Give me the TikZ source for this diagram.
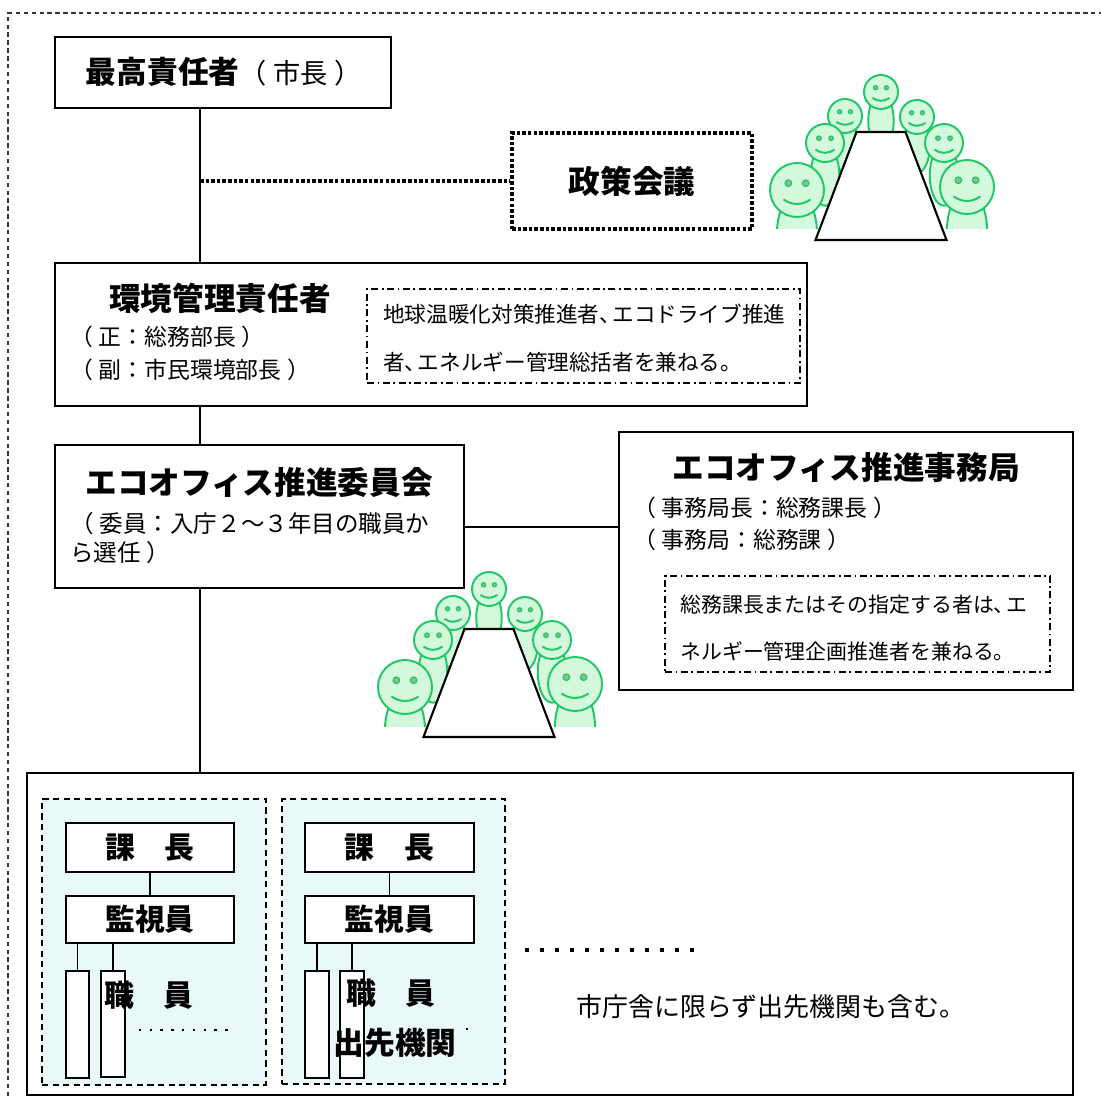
\documentclass[tikz,border=0pt]{standalone}
\usepackage{fontspec}
\setmainfont{Noto Sans CJK JP}
\usetikzlibrary{fit}

\definecolor{facegreen}{RGB}{30,200,100}
\definecolor{facefill}{RGB}{212,248,220}
\definecolor{eyefill}{RGB}{140,190,150}
\definecolor{unitfill}{RGB}{233,248,248}

% wide brackets and a tight comma
\newcommand\lp{（\hspace{0.25em}}
\newcommand\rp{\hspace{0.25em}）}
\newcommand\tc{、\kern-0.4em}

% one smiling member: head centre (#1,#2), radius #3
\newcommand\smiley[3]{%
	\draw[facegreen, fill=facefill, line width=1.1pt] (#1,{#2-1.7*#3}) ellipse ({0.75*#3} and {1.6*#3});
	\draw[facegreen, fill=facefill, line width=1.1pt] (#1,#2) circle[radius=#3];
	\draw[facegreen, fill=eyefill, line width=0.7pt] ({#1-0.32*#3},{#2+0.25*#3}) circle[radius={0.12*#3}];
	\draw[facegreen, fill=eyefill, line width=0.7pt] ({#1+0.32*#3},{#2+0.25*#3}) circle[radius={0.12*#3}];
	\draw[facegreen, line width=1.1pt] ({#1-0.5*#3},{#2-0.35*#3}) to[bend right=35] ({#1+0.5*#3},{#2-0.35*#3});
}

\tikzset{
	% members round a table, origin at the middle of the table's far edge
	meeting/.pic={
		\begin{scope}
		\clip (-110,-97) rectangle (110,70);
		\smiley{0}{40}{17}
		\smiley{-36}{16}{17}
		\smiley{36}{15}{17}
		\smiley{-56}{-11}{19}
		\smiley{63}{-11}{19}
		\end{scope}
		\draw[line width=1.2pt, fill=white] (-24.5,0) -- (24.5,0) -- (65.5,-108) -- (-65.5,-108) -- cycle;
		\begin{scope}
		\clip (-120,-97) rectangle (120,0);
		\smiley{-84}{-58}{27}
		\smiley{86}{-55}{27}
		\end{scope}
	}
}

\begin{document}
\begin{tikzpicture}[x=0.02cm, y=0.02cm]
	\tikzset{
	box/.style={draw, line width=1.1pt, fill=white, inner sep=0},
	notebox/.style={draw, line width=0.8pt, dash pattern=on 4pt off 2pt on 1pt off 2pt, inner sep=0},
	unitbox/.style={draw, line width=0.9pt, dash pattern=on 3.5pt off 2.5pt, fill=unitfill, inner sep=0},
	smallbox/.style={draw, line width=0.8pt, fill=white, inner sep=0},
	dotline/.style={line width=2pt, dash pattern=on 2pt off 1.2pt},
	link/.style={line width=1.1pt},
	title/.style={font=\bfseries\fontsize{18}{22}\selectfont, inner sep=0},
	small/.style={font=\bfseries\fontsize{17}{20}\selectfont, inner sep=0}}

	\useasboundingbox (0,0) rectangle (1101,-1097);

	% outer frame, runs off the page on the right and at the bottom
	\draw[gray!40!black, line width=0.6pt, dash pattern=on 2.5pt off 2pt] (8,-1120) -- (8,-13) -- (1120,-13);

	\coordinate (spine) at (200,-181);
	\coordinate (mid) at (540,-527);

	%chief
	\node[box, fit={(55,-37) (391,-108)}] (chief) {};
	\node[inner sep=0] (chieft) at (224,-72) {\bfseries\fontsize{17.5}{20}\selectfont 最高責任者\mdseries\fontsize{15.5}{20}\selectfont\lp 市長\rp};

	%policy council
	\node[box, dotline, fit={(512,-133) (752,-229)}] (policy) {};
	\node[title] (policyt) at (policy.center) {政策会議};
	\pic at (881,-132) {meeting};

	%environment manager
	\node[box, fit={(55,-263) (807,-406)}] (env) {};
	\node[title] (envt) at (220,-298) {環境管理責任者};
	\node[anchor=west, align=left, inner sep=0, font=\fontsize{13}{18.7}\selectfont] (envs) at (70,-353) {\lp 正：総務部長\rp\\\lp 副：市民環境部長\rp};
	\node[notebox, fit={(367,-289) (800,-383)}] (envn) {};
	\node[anchor=west, align=left, inner sep=0, font=\fontsize{12.3}{27}\selectfont] (envnt) at (383,-338) {地球温暖化対策推進者\tc エコドライブ推進\\者\tc エネルギー管理総括者を兼ねる。};

	%committee
	\node[box, fit={(55,-445) (464,-588)}] (committee) {};
	\node[title] (committeet) at (259,-482) {エコオフィス推進委員会};
	\node[anchor=west, align=left, inner sep=0, font=\fontsize{13.4}{17}\selectfont] (committees) at (70,-538) {\lp 委員：入庁２～３年目の職員か\\ら選任\rp};
	\pic at (489,-629) {meeting};

	%secretariat
	\node[box, fit={(619,-432) (1073,-690)}] (secretariat) {};
	\node[title] (secretariatt) at (846,-467) {エコオフィス推進事務局};
	\node[anchor=west, align=left, inner sep=0, font=\fontsize{13}{18}\selectfont] (secretariats) at (633,-524) {\lp 事務局長：総務課長\rp\\\lp 事務局：総務課\rp};
	\node[notebox, fit={(665,-576) (1050,-672)}] (secretariatn) {};
	\node[anchor=west, align=left, inner sep=0, font=\fontsize{11.9}{26.6}\selectfont] (secretariatnt) at (680,-628) {総務課長またはその指定する者は\tc エ\\ネルギー管理企画推進者を兼ねる。};

	%sections
	\node[box, fit={(27,-773) (1073,-1095)}] (units) {};
	\node[unitbox, fit={(42,-799) (266,-1085)}] (unita) {};
	\node[unitbox, fit={(282,-799) (505,-1084)}] (unitb) {};

	\node[smallbox, small, fit={(66,-823) (234,-872)}] (kachoa) {};
	\node[small] at (kachoa.center) {課　長};
	\node[smallbox, small, fit={(66,-896) (234,-943)}] (kanshia) {};
	\node[small] at (kanshia.center) {監視員};
	\node[smallbox, fit={(66,-971) (89,-1078)}] (staffa1) {};
	\node[smallbox, fit={(101,-971) (125,-1077)}] (staffa2) {};
	\node[small] (staffat) at (149,-995) {職　員};

	\node[smallbox, fit={(305,-823) (474,-872)}] (kachob) {};
	\node[small] at (kachob.center) {課　長};
	\node[smallbox, fit={(305,-896) (474,-943)}] (kanshib) {};
	\node[small] at (kanshib.center) {監視員};
	\node[smallbox, fit={(305,-971) (329,-1078)}] (staffb1) {};
	\node[smallbox, fit={(340,-971) (364,-1078)}] (staffb2) {};
	\node[small] (staffbt) at (391,-993) {職　員};
	\node[small, font=\bfseries\fontsize{17.5}{20}\selectfont] (branch) at (395,-1043) {出先機関};

	\foreach \i in {0,...,8}
		\fill (140+\i*10.8-1.2,-1031.2) rectangle ++(2.4,2.4);
	\fill (466,-1030) rectangle ++(2.4,2.4);
	\foreach \i in {0,...,11}
		\fill (527+\i*15-2,-952) rectangle ++(4,4);

	\node[inner sep=0, font=\fontsize{14.8}{18}\selectfont] (unitsn) at (771,-1007) {市庁舎に限らず出先機関も含む。};

	%connectors
	\draw[link] (chief.south -| spine) -- (env.north -| spine);
	\draw[dotline] (spine) -- (policy.west);
	\draw[link] (env.south -| spine) -- (committee.north -| spine);
	\draw[link] (committee.south -| spine) -- (units.north -| spine);
	\draw[link] (committee.east |- mid) -- (secretariat.west |- mid);

	\draw[line width=0.8pt] (kachoa.south) -- (kanshia.north);
	\draw[line width=0.8pt] (kanshia.south -| staffa1.north) -- (staffa1.north);
	\draw[line width=0.8pt] (kanshia.south -| staffa2.north) -- (staffa2.north);
	\draw[line width=0.8pt] (kachob.south) -- (kanshib.north);
	\draw[line width=0.8pt] (kanshib.south -| staffb1.north) -- (staffb1.north);
	\draw[line width=0.8pt] (kanshib.south -| staffb2.north) -- (staffb2.north);
\end{tikzpicture}
\end{document}
